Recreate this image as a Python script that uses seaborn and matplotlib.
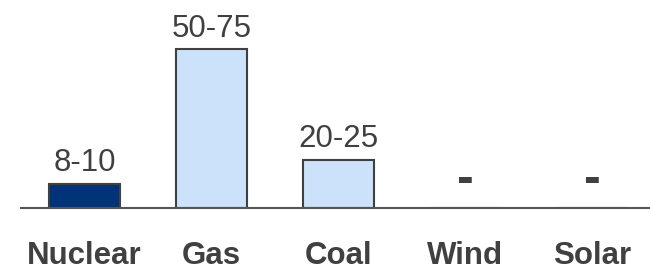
import matplotlib
matplotlib.use("Agg")
import matplotlib.pyplot as plt
import seaborn as sns
import pandas as pd

categories = ["Nuclear", "Gas", "Coal", "Wind", "Solar"]
values = [10, 66, 20, 0, 0]
labels = ["8-10", "50-75", "20-25", "-", "-"]
colors = ["#003378", "#CCE2FA", "#CCE2FA", "#CCE2FA", "#CCE2FA"]

sns.set_theme(style="white")
plt.rcParams["font.family"] = ["Liberation Sans", "DejaVu Sans"]

df = pd.DataFrame({"cat": categories, "val": values})

fig = plt.figure(figsize=(6.5, 2.73), dpi=100)
ax = fig.add_axes([21 / 650, 65.5 / 273, 635 / 650, 207.5 / 273])

sns.barplot(data=df, x="cat", y="val", hue="cat", palette=colors, legend=False,
            width=0.559, edgecolor="#404040", linewidth=1.5, saturation=1, ax=ax)

ax.set_xlim(-0.5, 4.5)
ax.set_ylim(0, 86.5)
for s in ["top", "right", "left"]:
    ax.spines[s].set_visible(False)
ax.spines["bottom"].set_color("#555555")
ax.spines["bottom"].set_linewidth(1.5)
ax.set_yticks([])
ax.set_xlabel("")
ax.set_ylabel("")
ax.tick_params(axis="x", length=0, pad=24)
for t in ax.get_xticklabels():
    t.set_fontweight("bold")
    t.set_fontsize(22.5)
    t.set_color("#404040")

for i, (v, lab) in enumerate(zip(values, labels)):
    if lab == "-":
        ax.annotate("-", (i, v), xytext=(0, 20), textcoords="offset points",
                    ha="center", va="center", fontsize=36, fontweight="bold",
                    color="#404040")
    else:
        ax.annotate(lab, (i, v), xytext=(0, 4), textcoords="offset points",
                    ha="center", va="bottom", fontsize=22.5, color="#404040")

fig.savefig("out.png", dpi=100)
